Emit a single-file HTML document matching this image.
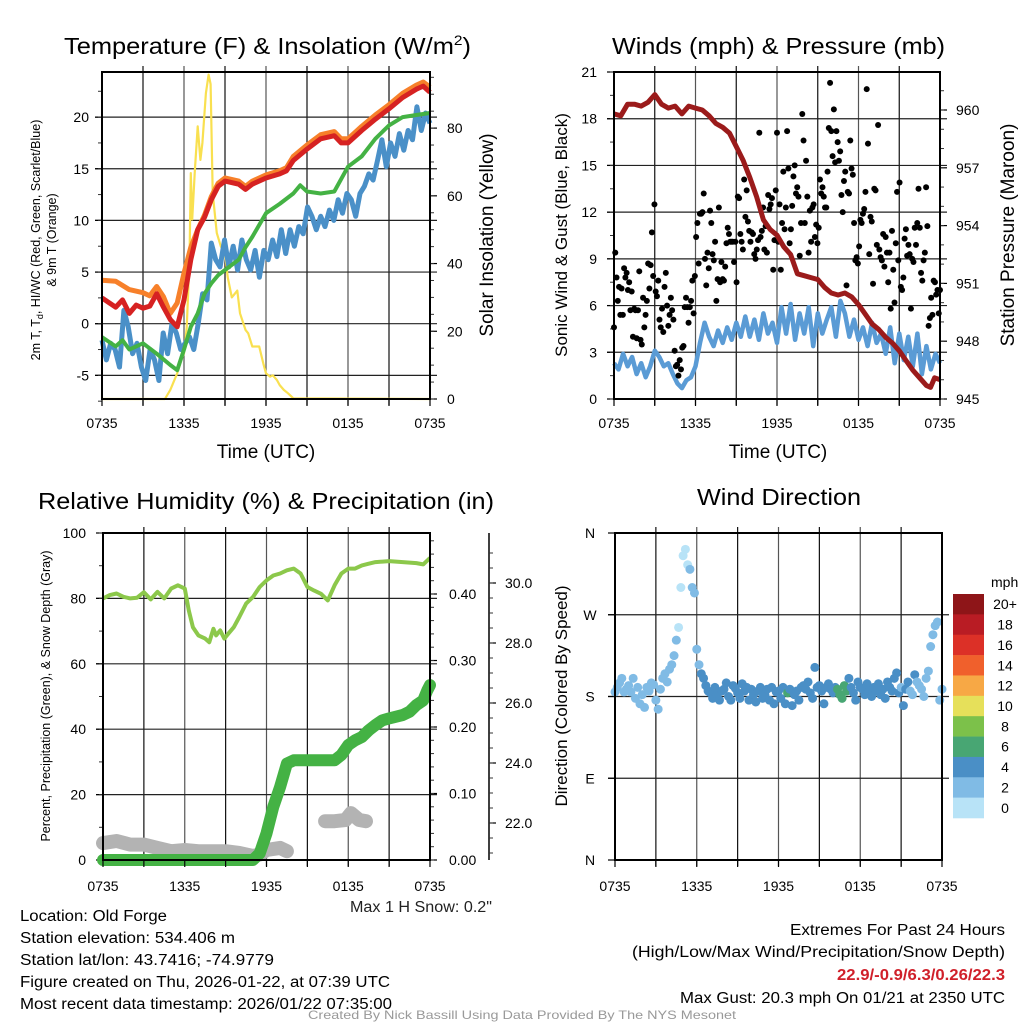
<!DOCTYPE html>
<html><head><meta charset="utf-8"><style>
html,body{margin:0;padding:0;background:#fff;}
svg{display:block;font-family:"Liberation Sans",sans-serif;}
</style></head><body>
<svg id="chart" width="1024" height="1024" viewBox="0 0 1024 1024" xmlns="http://www.w3.org/2000/svg">
<rect width="1024" height="1024" fill="#fff"/>
<g id="layer"></g>
<text x="64" y="54" font-size="23" textLength="407" lengthAdjust="spacingAndGlyphs">Temperature (F) &amp; Insolation (W/m<tspan dy="-9" font-size="14">2</tspan><tspan dy="9">)</tspan></text>
<text x="612" y="54" font-size="23" textLength="333" lengthAdjust="spacingAndGlyphs">Winds (mph) &amp; Pressure (mb)</text>
<text x="38" y="509" font-size="23" textLength="456" lengthAdjust="spacingAndGlyphs">Relative Humidity (%) &amp; Precipitation (in)</text>
<text x="697" y="505" font-size="23" textLength="164" lengthAdjust="spacingAndGlyphs">Wind Direction</text>
<text x="266" y="458" font-size="19" text-anchor="middle">Time (UTC)</text>
<text x="778" y="458" font-size="19" text-anchor="middle">Time (UTC)</text>
<text transform="translate(40,240) rotate(-90)" font-size="12.5" text-anchor="middle">2m T, T<tspan dy="3" font-size="9">d</tspan><tspan dy="-3">, HI/WC (Red, Green, Scarlet/Blue)</tspan></text>
<text transform="translate(56,240) rotate(-90)" font-size="12.5" text-anchor="middle">&amp; 9m T (Orange)</text>
<text transform="translate(493,235) rotate(-90)" font-size="19" text-anchor="middle">Solar Insolation (Yellow)</text>
<text transform="translate(567,235) rotate(-90)" font-size="17" text-anchor="middle">Sonic Wind &amp; Gust (Blue, Black)</text>
<text transform="translate(1014,235) rotate(-90)" font-size="19" text-anchor="middle">Station Pressure (Maroon)</text>
<text transform="translate(50,696) rotate(-90)" font-size="12.5" text-anchor="middle">Percent, Precipitation (Green), &amp; Snow Depth (Gray)</text>
<text transform="translate(567,696) rotate(-90)" font-size="17" text-anchor="middle">Direction (Colored By Speed)</text>
<text x="991" y="587" font-size="14">mph</text>
<g font-size="15.5">
<text x="20" y="921" textLength="147" lengthAdjust="spacingAndGlyphs">Location: Old Forge</text>
<text x="20" y="943" textLength="215" lengthAdjust="spacingAndGlyphs">Station elevation: 534.406 m</text>
<text x="20" y="965" textLength="254" lengthAdjust="spacingAndGlyphs">Station lat/lon: 43.7416; -74.9779</text>
<text x="20" y="987" textLength="370" lengthAdjust="spacingAndGlyphs">Figure created on Thu, 2026-01-22, at 07:39 UTC</text>
<text x="20" y="1009" textLength="372" lengthAdjust="spacingAndGlyphs">Most recent data timestamp: 2026/01/22 07:35:00</text>
</g>
<text x="350" y="912" font-size="15.5" textLength="142" lengthAdjust="spacingAndGlyphs" fill="#222">Max 1 H Snow: 0.2"</text>
<g font-size="15.5">
<text x="790" y="935" textLength="215" lengthAdjust="spacingAndGlyphs">Extremes For Past 24 Hours</text>
<text x="632" y="957" textLength="373" lengthAdjust="spacingAndGlyphs">(High/Low/Max Wind/Precipitation/Snow Depth)</text>
<text x="837" y="980" textLength="168" lengthAdjust="spacingAndGlyphs" fill="#d0202a" font-weight="bold">22.9/-0.9/6.3/0.26/22.3</text>
<text x="680" y="1003" textLength="325" lengthAdjust="spacingAndGlyphs">Max Gust: 20.3 mph On 01/21 at 2350 UTC</text>
</g>
<text x="308" y="1019" font-size="12" fill="#999" textLength="428" lengthAdjust="spacingAndGlyphs">Created By Nick Bassill Using Data Provided By The NYS Mesonet</text>
</svg>
<script>
const timeTicks = ["0735","1335","1935","0135","0735"];
const orangeHours = [0,1,2,3,3.5,4,4.5,5,5.5,6,6.5,7,7.5,8,8.5,9,10,10.5,11,12,13,13.5,14,15,16,17,17.5,18,19,20,21,22,23,23.5,24];
const orangeTemp  = [4.2,4.1,3.3,3.0,2.7,3.6,2.6,1.0,2.0,4.9,7.4,9.1,10.5,12.3,13.6,14.1,13.8,13.3,13.8,14.4,14.8,15.1,16.2,17.3,18.3,18.6,17.9,17.9,19.1,20.2,21.2,22.3,23.1,23.4,22.9];
const redHours = [0,1,1.5,2,2.5,3,3.5,4,4.5,5,5.5,6,6.5,7,7.5,8,8.5,9,10,10.5,11,12,13,13.5,14,15,16,17,17.5,18,19,20,21,22,23,23.5,24];
const redTemp  = [2.5,1.6,2.3,1.0,1.8,1.5,1.7,2.9,1.6,0.4,-0.3,2.3,6.2,9.1,10.3,12.0,13.3,13.8,13.5,13.0,13.5,14.1,14.5,14.8,15.8,16.9,17.9,18.2,17.5,17.5,18.7,19.8,20.8,21.9,22.7,23.0,22.4];
const greenHours = [0,1,1.5,2,2.5,3,4,5,5.5,6,6.5,7,7.5,8,8.5,9,10,10.5,11,12,13,14,14.5,15,16,17,18,19,20,21,22,23,24];
const greenTemp  = [-1.3,-2.2,-1.6,-2.5,-2.2,-1.9,-2.9,-4.0,-4.5,-2.5,-0.3,1.0,2.9,3.9,4.7,5.2,6.2,7.4,8.4,10.7,11.6,12.6,13.4,12.8,12.6,12.8,15.2,16.2,17.9,19.2,20.0,20.2,20.4];
const blueTemp = [-1.6,-3.5,-1.9,-2.5,-4.2,1.3,-0.3,-2.9,-1.9,-4.2,-5.5,-2.5,-3.5,-5.5,-0.9,-2.9,0.0,-0.9,-2.5,-1.9,-1.3,-2.5,0.0,2.9,2.3,7.8,6.2,5.5,8.1,5.5,7.5,5.2,8.1,6.2,5.2,7.1,4.5,7.1,6.2,8.1,6.5,9.1,6.8,9.1,7.5,9.4,8.7,11.3,10.4,9.1,10.4,9.4,11.0,10.0,12.0,10.7,12.6,12.0,10.4,12.6,13.3,14.5,13.9,15.8,17.8,15.2,17.5,16.2,18.4,16.8,18.7,17.8,21.0,18.7,20.4,19.4];
const solarHours = [0,4.6,5,5.5,5.8,6,6.2,6.4,6.5,6.6,6.8,7,7.2,7.35,7.6,7.8,7.95,8.1,8.4,8.7,9,9.2,9.5,9.7,9.9,10.1,10.5,10.7,11,11.3,11.5,11.8,12,12.3,12.5,12.8,13,13.3,13.6,14,24];
const solarValues = [0,0,2.7,7.6,11.5,13.5,21,41,66.7,53,67.7,80.5,70.6,75.6,90.3,95.8,93,60.8,49,45,43,36,30,31,32,25.3,20.4,19.4,15.5,15.5,15.5,10.5,7.6,6.6,7,5.6,4.1,2.7,1.7,0.2,0];
const pressureHours = [0,0.5,1,1.5,2,2.5,3,3.5,4,4.5,5,5.5,6,6.5,7,7.5,8,8.5,9,9.5,10,10.5,11,11.5,12,12.5,13,13.5,14,14.5,15,15.5,16,16.5,17,17.5,18,18.5,19,19.5,20,20.5,21,21.5,22,22.5,23,23.3,23.6,24];
const pressureMb = [959.8,959.7,960.3,960.3,960.2,960.4,960.8,960.3,960.1,960.2,959.8,960.2,960.1,960.0,959.7,959.3,959.1,958.8,958.1,957.4,956.5,955.5,954.3,953.8,953.5,952.9,952.5,951.5,951.4,951.3,951.2,950.8,950.5,950.4,950.5,950.3,949.9,949.4,948.9,948.6,948.2,947.9,947.5,947.0,946.5,946.1,945.7,945.6,946.1,946.0];
const windMph = [2.3,1.9,2.9,2.1,2.7,1.6,2.3,1.4,2.1,3.1,2.7,2.1,2.3,1.6,1.0,0.7,1.2,1.4,2.1,3.6,4.9,4.0,3.4,4.4,3.6,4.6,3.8,4.9,4.0,5.3,4.0,5.1,3.8,5.5,4.2,4.9,3.6,5.9,4.2,6.1,3.8,5.5,4.2,5.9,3.4,5.5,4.2,5.1,5.9,4.0,6.3,5.5,4.0,5.1,3.8,4.6,3.4,4.9,3.6,4.2,2.9,4.6,2.3,4.2,2.5,4.0,2.1,4.2,1.6,3.4,1.9,2.9,2.3];
const gustMph = [4.6,9.4,7.8,6.3,7.2,5.4,7.1,5.4,8.4,7.8,8.1,7.0,7.5,5.7,6.9,4.0,5.8,5.7,3.9,5.7,8.2,3.8,3.5,6.5,4.6,5.4,6.3,8.7,7.1,8.6,10.7,7.9,12.5,6.9,6.6,7.6,5.1,4.6,5.8,4.3,7.2,8.1,6.0,4.7,5.4,6.5,5.7,5.1,3.1,2.1,2.2,1.5,2.5,1.9,3.3,3.4,5.9,6.5,5.9,4.9,5.9,6.3,7.6,5.5,7.9,10.4,11.3,8.7,11.9,11.9,12.0,13.2,9.0,7.3,9.4,8.4,12.1,11.3,9.3,8.9,10.1,6.3,7.7,12.3,7.5,8.8,7.7,7.6,8.5,10.0,11.0,10.6,10.1,10.1,10.1,8.8,10.1,7.5,13.0,12.9,10.6,10.1,9.6,14.1,11.7,13.4,11.4,10.8,10.1,10.7,10.6,9.3,9.0,9.6,10.2,17.1,10.4,10.8,12.3,9.6,11.1,9.4,13.1,12.2,12.5,12.9,8.3,10.2,13.4,17.1,10.1,12.5,8.3,11.3,14.6,10.9,12.3,17.2,14.8,10.0,10.9,12.4,14.3,15.0,13.2,13.6,13.0,9.2,11.3,18.3,16.6,11.3,15.3,13.0,9.4,12.1,10.1,12.3,12.5,10.4,11.2,10.0,11.0,14.1,13.2,13.6,13.0,12.3,12.3,14.6,17.4,20.3,17.2,15.6,18.6,15.2,17.2,16.5,15.3,15.9,13.1,12.0,14.0,14.6,7.3,13.3,13.2,16.6,14.8,14.4,11.3,8.9,9.1,8.7,9.8,11.5,11.3,11.9,12.2,13.3,19.9,16.4,9.3,11.7,11.4,7.4,13.5,13.4,9.9,17.6,9.6,9.1,8.9,10.6,8.5,10.4,9.4,7.5,9.4,5.8,10.8,8.3,6.2,10.0,13.3,8.9,13.9,7.2,7.0,7.8,10.3,10.9,9.2,9.9,9.3,5.8,9.0,8.8,11.0,9.9,11.3,13.5,11.0,8.1,7.6,8.9,9.4,13.6,11.1,4.7,5.2,6.5,5.4,7.6,7.5,6.7,7.0,5.5,7.0];
const rhHours = [0,0.5,1,1.5,2,2.5,3,3.5,4,4.5,5,5.5,6,6.3,6.6,7,7.5,7.8,8.1,8.3,8.6,8.9,9.2,9.6,10,10.5,11,11.5,12,12.5,13,13.5,14,14.5,15,15.5,16,16.5,17,17.5,18,18.5,19,19.5,20,21,22,23,23.5,24];
const rhPct = [80,81,81.5,80.5,80,80.2,81.9,79.7,82,80,83,84,83,76.3,71.2,68.7,67.7,66.6,70.7,68.7,70.2,67.7,69.2,71.2,74.3,78.4,80.4,83.5,85.5,87,87.6,88.6,89.1,87.6,83.5,82.4,81.4,79.4,84,87.6,89.1,89.1,90.1,90.6,91.1,91.4,91.1,90.8,90.4,92.4];
const precipHours = [0,11,11.5,12,12.5,13,13.5,14,17,17.5,18,18.5,19,19.5,20,20.5,21,22,22.5,23,23.5,23.8,24];
const precipIn = [0,0,0.01,0.04,0.08,0.11,0.145,0.15,0.15,0.158,0.173,0.18,0.185,0.195,0.203,0.21,0.213,0.218,0.223,0.233,0.24,0.255,0.263];
const snowHours = [0,1,2,3,4,5,6,7,8,9,10,11,11.5,12,13,13.5,14,16.3,17,17.8,18.2,18.8,19.3];
const snowIn = [21.33,21.4,21.28,21.28,21.17,21.06,21.1,21.06,21.06,21.06,21.0,20.9,20.95,21.1,21.17,21.06,null,22.06,22.06,22.1,22.33,22.1,22.06];
const directionDeg = [185,190,195,200,185,188,192,185,200,178,190,172,182,168,190,186,195,193,176,166,188,200,205,196,210,215,225,242,256,300,335,342,325,320,300,294,232,215,205,200,192,186,184,178,190,182,176,186,188,195,180,176,192,189,184,178,194,186,190,176,188,182,174,186,190,178,182,188,176,190,172,185,186,178,190,172,184,188,170,182,186,176,190,192,188,196,184,178,212,190,192,186,172,190,194,188,184,190,188,182,178,192,186,200,190,184,176,196,190,188,182,194,186,180,190,186,194,182,188,178,196,190,186,200,206,184,190,170,188,196,186,182,204,196,192,188,180,200,208,235,248,258,262,176,188];
const speedBins = ["0","2","4","6","8","10","12","14","16","18","20+"];
const binColors = ["#b8e3f7","#80bbe5","#4a8fc6","#48a673","#7cc14a","#e6e05a","#f7a845","#f0602c","#dc3027","#b91c24","#8e1518"];

const NS = "http://www.w3.org/2000/svg";
const layer = document.getElementById("layer");
function mk(tag, attrs, parent) {
  const e = document.createElementNS(NS, tag);
  for (const k in attrs) e.setAttribute(k, attrs[k]);
  (parent || layer).appendChild(e);
  return e;
}
function txt(x, y, s, size, anchor, parent) {
  const t = mk("text", {x: x, y: y, "font-size": size, "text-anchor": anchor || "start"}, parent);
  t.textContent = s;
  return t;
}
function linScale(d0, d1, r0, r1) { return v => r0 + (v - d0) * (r1 - r0) / (d1 - d0); }
function pathFrom(xs, ys, sx, sy) {
  let d = "", pen = false;
  for (let i = 0; i < xs.length; i++) {
    if (ys[i] === null || ys[i] === undefined) { pen = false; continue; }
    d += (pen ? "L" : "M") + sx(xs[i]).toFixed(1) + "," + sy(ys[i]).toFixed(1);
    pen = true;
  }
  return d;
}
function frame(P, name) {
  const g = mk("g", {});
  
  
  for (let h = 3; h < 24; h += 3) {
    const x = P.sx(h);
    mk("line", {x1: x, x2: x, y1: P.y0 - 6, y2: P.y1 + 6, stroke: h % 6 === 0 ? "#555" : "#111", "stroke-width": 1.2}, g);
  }
  return g;
}
function hgrid(P, ys, g) {
  ys.forEach(y => mk("line", {x1: P.x0 - 7, x2: P.x1 + 7, y1: y, y2: y, stroke: "#222", "stroke-width": 1.2}, g));
}
function border(P, name) {
  const r = mk("rect", {x: P.x0, y: P.y0, width: P.x1 - P.x0, height: P.y1 - P.y0, fill: "none", stroke: "#000", "stroke-width": 2});
  
  
}
function xTicks(P, name, ly) {
  const g = mk("g", {});
  
  
  for (let h = 0; h <= 24; h += 3) mk("line", {x1: P.sx(h), x2: P.sx(h), y1: P.y1, y2: P.y1 + 7, stroke: "#000", "stroke-width": 1.2}, g);
  timeTicks.forEach((s, i) => txt(P.sx(i * 6), ly, s, 14, "middle", g));
}
function yTicks(x, dir, vals, sy, labels, lx, anchor, minorVals, name) {
  const g = mk("g", {});
  
  
  vals.forEach((v, i) => {
    const y = sy(v);
    mk("line", {x1: x, x2: x + dir * 7, y1: y, y2: y, stroke: "#000", "stroke-width": 1.2}, g);
    if (labels) txt(lx, y + 5, labels[i], 14, anchor, g);
  });
  (minorVals || []).forEach(v => {
    const y = sy(v);
    mk("line", {x1: x, x2: x + dir * 4, y1: y, y2: y, stroke: "#333", "stroke-width": 1}, g);
  });
}
function range(a, b, s) { const r = []; for (let v = a; v <= b + 1e-9; v += s) r.push(+v.toFixed(3)); return r; }

const P1 = {x0: 102, x1: 430, y0: 72, y1: 399};
P1.sx = linScale(0, 24, P1.x0, P1.x1);
const t1 = linScale(0, 10, 323.7, 220.4);
const ins = linScale(0, 80, 399, 128.1);
{
  const g = frame(P1, "temperature");
  hgrid(P1, [-5, 0, 5, 10, 15, 20].map(t1), g);
  const tempTicks = [-5, 0, 5, 10, 15, 20];
  yTicks(P1.x0, -1, tempTicks, t1, tempTicks.map(String), 89, "end", range(-7.5, 24, 2.5), "temperature-left-ticks");
  const insTicks = [0, 20, 40, 60, 80];
  yTicks(P1.x1, 1, insTicks, ins, insTicks.map(String), 447, "start", range(0, 95, 5), "insolation-right-ticks");
  let p = mk("path", {d: pathFrom(solarHours, solarValues, P1.sx, ins), fill: "none", stroke: "#f9e050", "stroke-width": 2.2, "stroke-linejoin": "round"});
  
  
  const blueHours = blueTemp.map((_, i) => i * 24 / (blueTemp.length - 1));
  p = mk("path", {d: pathFrom(blueHours, blueTemp, P1.sx, t1), fill: "none", stroke: "#4a90c8", "stroke-width": 5, "stroke-linejoin": "round"});
  
  
  p = mk("path", {d: pathFrom(greenHours, greenTemp, P1.sx, t1), fill: "none", stroke: "#44b244", "stroke-width": 4, "stroke-linejoin": "round"});
  
  
  p = mk("path", {d: pathFrom(orangeHours, orangeTemp, P1.sx, t1), fill: "none", stroke: "#f7802a", "stroke-width": 5, "stroke-linejoin": "round"});
  
  
  p = mk("path", {d: pathFrom(redHours, redTemp, P1.sx, t1), fill: "none", stroke: "#d62222", "stroke-width": 5, "stroke-linejoin": "round"});
  
  
  border(P1, "temperature");
  xTicks(P1, "temperature", 428);
}

const P2 = {x0: 614, x1: 940, y0: 72, y1: 399};
P2.sx = linScale(0, 24, P2.x0, P2.x1);
const w2 = linScale(0, 21, 399, 72);
const pr = linScale(945, 960, 399, 110);
{
  const g = frame(P2, "winds");
  const wTicks = [0, 3, 6, 9, 12, 15, 18, 21];
  hgrid(P2, wTicks.slice(1, 7).map(w2), g);
  yTicks(P2.x0, -1, wTicks, w2, wTicks.map(String), 597, "end", range(0, 21, 1.5), "wind-left-ticks");
  const pTicks = [945, 948, 951, 954, 957, 960];
  yTicks(P2.x1, 1, pTicks, pr, pTicks.map(String), 956, "start", range(945, 961.5, 1), "pressure-right-ticks");
  const windHours = windMph.map((_, i) => i * 24 / (windMph.length - 1));
  let p = mk("path", {d: pathFrom(windHours, windMph, P2.sx, w2), fill: "none", stroke: "#5a9bd5", "stroke-width": 4.5, "stroke-linejoin": "round"});
  
  
  const gg = mk("g", {});
  
  
  gustMph.forEach((v, i) => {
    const c = mk("circle", {cx: P2.sx(i * 24 / (gustMph.length - 1)), cy: w2(v), r: 3, fill: "#000"}, gg);
    
    
  });
  p = mk("path", {d: pathFrom(pressureHours, pressureMb, P2.sx, pr), fill: "none", stroke: "#9b1b1b", "stroke-width": 5, "stroke-linejoin": "round"});
  
  
  border(P2, "winds");
  xTicks(P2, "winds", 428);
}

const P3 = {x0: 103, x1: 430, y0: 533, y1: 860};
P3.sx = linScale(0, 24, P3.x0, P3.x1);
const rh = linScale(0, 100, 860, 533);
const pc = linScale(0, 0.4, 860, 594);
const sn = linScale(22, 30, 823, 583);
{
  const g = frame(P3, "humidity");
  const rTicks = [0, 20, 40, 60, 80, 100];
  hgrid(P3, [20, 40, 60, 80].map(rh), g);
  yTicks(P3.x0, -1, rTicks, rh, rTicks.map(String), 86, "end", range(0, 100, 10), "humidity-left-ticks");
  const pTicks = [0, 0.1, 0.2, 0.3, 0.4];
  yTicks(P3.x1, 1, pTicks, pc, pTicks.map(v => v.toFixed(2)), 449, "start", range(0, 0.48, 0.02), "precip-right-ticks");
  const ax = mk("line", {x1: 489, x2: 489, y1: 533, y2: 860, stroke: "#000", "stroke-width": 1.5});
  
  
  const sTicks = [22, 24, 26, 28, 30];
  yTicks(489, 1, sTicks, sn, sTicks.map(v => v.toFixed(1)), 505, "start", range(21, 31, 0.5), "snow-depth-ticks");
  let p = mk("path", {d: pathFrom(snowHours, snowIn, P3.sx, sn), fill: "none", stroke: "#b3b3b3", "stroke-width": 14, "stroke-linejoin": "round", "stroke-linecap": "round"});
  
  
  p = mk("path", {d: pathFrom(precipHours, precipIn, P3.sx, pc), fill: "none", stroke: "#44b244", "stroke-width": 12, "stroke-linejoin": "round", "stroke-linecap": "round"});
  
  
  p = mk("path", {d: pathFrom(rhHours, rhPct, P3.sx, rh), fill: "none", stroke: "#8cc84b", "stroke-width": 4, "stroke-linejoin": "round"});
  
  
  border(P3, "humidity");
  xTicks(P3, "humidity", 891);
}

const P4 = {x0: 615, x1: 942, y0: 533, y1: 860};
P4.sx = linScale(0, 24, P4.x0, P4.x1);
const dy = linScale(0, 360, 860, 533);
{
  const g = frame(P4, "direction");
  const dTicks = [0, 90, 180, 270, 360];
  hgrid(P4, [90, 180, 270].map(dy), g);
  yTicks(P4.x0, -1, dTicks, dy, ["N", "E", "S", "W", "N"], 590, "middle", [], "direction-left-ticks");
  const windHours = windMph.map((_, i) => i * 24 / (windMph.length - 1));
  function speedAt(h) {
    for (let i = 1; i < windHours.length; i++) if (h <= windHours[i]) {
      const f = (h - windHours[i - 1]) / (windHours[i] - windHours[i - 1]);
      return windMph[i - 1] + f * (windMph[i] - windMph[i - 1]);
    }
    return windMph[windMph.length - 1];
  }
  const gg = mk("g", {});
  
  
  directionDeg.forEach((d, i) => {
    const h = i * 24 / (directionDeg.length - 1);
    const s = (speedAt(Math.max(0, h - 0.3)) + speedAt(h) + speedAt(Math.min(24, h + 0.3))) / 3;
    const bin = Math.min(10, Math.max(0, Math.floor((s + 0.8) / 2)));
    const c = mk("circle", {cx: P4.sx(h), cy: dy(d), r: 4.5, fill: binColors[bin]}, gg);
    
    
  });
  border(P4, "direction");
  xTicks(P4, "direction", 891);
  const cb = mk("g", {});
  
  
  const segH = (818 - 594) / speedBins.length;
  for (let k = 0; k < speedBins.length; k++) {
    const idx = speedBins.length - 1 - k;
    const y = 594 + k * segH;
    const r = mk("rect", {x: 953, y: y, width: 31, height: segH + 0.3, fill: binColors[idx]}, cb);
    
    
    txt(1005, y + segH / 2 + 5, speedBins[idx], 14, "middle", cb);
  }
}
</script>
</body></html>
